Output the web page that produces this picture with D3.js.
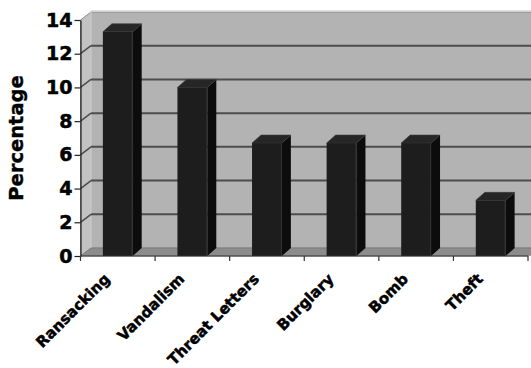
<!DOCTYPE html>
<html><head><meta charset="utf-8">
<script src="https://cdn.jsdelivr.net/npm/d3@7"></script>
<style>
html,body{margin:0;padding:0;background:#fff;}
svg{display:block;}
text{font-family:"DejaVu Sans",sans-serif;font-weight:bold;fill:#000;}
</style></head>
<body>
<script>
const categories = ["Ransacking","Vandalism","Threat Letters","Burglary","Bomb","Theft"];
const values = [13.3, 10, 6.7, 6.7, 6.7, 3.3];
const yTicks = [0,2,4,6,8,10,12,14];
const yTitle = "Percentage";

const W = 531, H = 368;
const svg = d3.select("body").append("svg").attr("width", W).attr("height", H);

const x0 = 80.5, x1 = 528;
const y = d3.scaleLinear().domain([0,14]).range([256,20]);
const xb = d3.scaleBand().domain(categories).range([x0,x1]).padding(0);
const xBar = d3.scaleBand().domain(categories).range([x0,x1]).paddingInner(0.6).paddingOuter(0.3);

const wdx = 10.5, wdy = -8;   // wall depth
const bdx = 9, bdy = -8;      // bar depth

// back wall
svg.append("rect").attr("x", x0+wdx).attr("y", y(14)+wdy).attr("width", W).attr("height", y(0)-y(14))
  .attr("fill","#b3b3b3").attr("stroke","#8a8a8a").attr("stroke-width",1);
svg.append("line").attr("x1", x0+wdx).attr("x2", W).attr("y1", y(14)+wdy-1).attr("y2", y(14)+wdy-1)
  .attr("stroke","#d6d6d6").attr("stroke-width",1.5);
// left wall
svg.append("path")
  .attr("d", `M${x0},${y(14)} L${x0+wdx},${y(14)+wdy} L${x0+wdx},${y(0)+wdy} L${x0},${y(0)} Z`)
  .attr("fill","#c2c2c2").attr("stroke","#8a8a8a").attr("stroke-width",1);
svg.append("line").attr("x1", x0+wdx).attr("x2", x0+wdx).attr("y1", y(14)+wdy).attr("y2", y(0)+wdy)
  .attr("stroke","#d0d0d0").attr("stroke-width",1.5);

// gridlines
const grid = yTicks.filter(v => v > 0 && v < 14);
svg.selectAll(".gb").data(grid).enter().append("line")
  .attr("x1", x0+wdx).attr("x2", W).attr("y1", d => y(d)+wdy).attr("y2", d => y(d)+wdy)
  .attr("stroke","#4d4d4d").attr("stroke-width",2);
svg.selectAll(".gl").data(grid).enter().append("line")
  .attr("x1", x0).attr("x2", x0+wdx).attr("y1", d => y(d)).attr("y2", d => y(d)+wdy)
  .attr("stroke","#4d4d4d").attr("stroke-width",1.5);

// floor
svg.append("path")
  .attr("d", `M${x0},${y(0)} L${x0+wdx},${y(0)+wdy} L${W+20},${y(0)+wdy} L${x1},${y(0)} Z`)
  .attr("fill","#8c8c8c").attr("stroke","#7a7a7a").attr("stroke-width",0.8);

// bars
const bars = svg.selectAll(".bar").data(categories).enter().append("g");
bars.append("path") // side
  .attr("d", (c,i) => { const xr = xBar(c)+xBar.bandwidth(); const yt = y(values[i]);
    return `M${xr},${yt} L${xr+bdx},${yt+bdy} L${xr+bdx},${y(0)+bdy} L${xr},${y(0)} Z`; })
  .attr("fill","#0c0c0c");
bars.append("path") // top
  .attr("d", (c,i) => { const xl = xBar(c), xr = xl+xBar.bandwidth(); const yt = y(values[i]);
    return `M${xl},${yt} L${xl+bdx},${yt+bdy} L${xr+bdx},${yt+bdy} L${xr},${yt} Z`; })
  .attr("fill","#262626").attr("stroke","#3a3a3a").attr("stroke-width",0.6);
bars.append("rect") // front
  .attr("x", c => xBar(c)).attr("y", (c,i) => y(values[i]))
  .attr("width", xBar.bandwidth()).attr("height", (c,i) => y(0)-y(values[i]))
  .attr("fill","#1d1d1d");
bars.append("line")
  .attr("x1", c => xBar(c)+xBar.bandwidth()-0.5).attr("x2", c => xBar(c)+xBar.bandwidth()-0.5)
  .attr("y1", (c,i) => y(values[i])).attr("y2", y(0))
  .attr("stroke","#333").attr("stroke-width",1);

// y axis
const yAxis = svg.append("g").attr("transform", `translate(${x0},0)`)
  .call(d3.axisLeft(y).tickValues(yTicks).tickSize(6).tickSizeOuter(0).tickPadding(2));
yAxis.select(".domain").attr("stroke","#222").attr("stroke-width",1.2);
yAxis.selectAll(".tick line").attr("stroke","#222").attr("stroke-width",1.2);
yAxis.selectAll(".tick text").style("font-family","DejaVu Sans").style("font-weight","bold")
  .style("font-size","19px").attr("fill","#000").attr("stroke","#000").attr("stroke-width",0.5);

// x axis line + ticks at band boundaries
svg.append("line").attr("x1", x0).attr("x2", x1).attr("y1", y(0)).attr("y2", y(0))
  .attr("stroke","#333").attr("stroke-width",1.2);
const bounds = categories.map(c => xb(c)).concat([x1]);
svg.selectAll(".xt").data(bounds).enter().append("line")
  .attr("x1", d => d).attr("x2", d => d).attr("y1", y(0)).attr("y2", y(0)+5)
  .attr("stroke","#333").attr("stroke-width",1.2);

// category labels
svg.selectAll(".xl").data(categories).enter().append("text")
  .attr("transform", c => `translate(${xb(c)+xb.bandwidth()/2-7},${y(0)+24}) rotate(-45)`)
  .attr("text-anchor","end").style("font-size","15px")
  .attr("stroke","#000").attr("stroke-width",0.5).text(c => c);

// y title
svg.append("text").attr("transform", `translate(23,${(y(0)+y(14))/2}) rotate(-90)`)
  .attr("text-anchor","middle").style("font-size","19.5px")
  .attr("stroke","#000").attr("stroke-width",0.4).text(yTitle);
</script>
</body></html>
